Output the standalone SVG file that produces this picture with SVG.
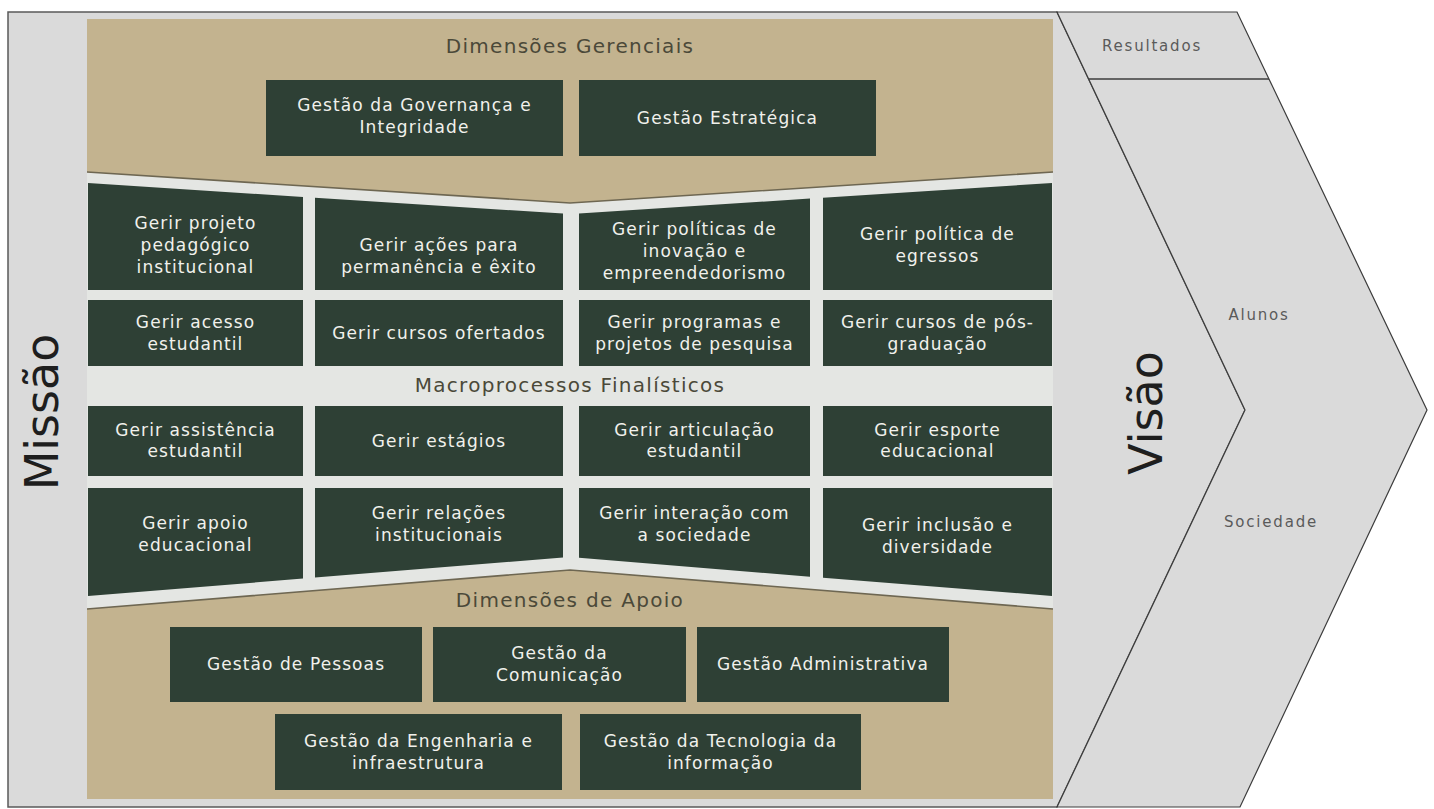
<svg xmlns="http://www.w3.org/2000/svg" width="1434" height="809" viewBox="0 0 1434 809">
<style>
.panel{fill:#dadada;stroke:#5a5a5a;stroke-width:1.5}
.band{fill:#dadada;stroke:#3c3c3c;stroke-width:1.2}
.bg{fill:#e4e6e3}
.tan{fill:#c3b38f}
.edge{fill:none;stroke:#6e6752;stroke-width:1.6}
.box{fill:#2e4035}
.bt{font-family:"DejaVu Sans",sans-serif;font-size:17px;fill:#f1f1ec;text-anchor:middle;letter-spacing:1.1px}
.sec{font-family:"DejaVu Sans",sans-serif;font-size:20px;fill:#4b4939;text-anchor:middle;letter-spacing:1.3px}
.lab{font-family:"DejaVu Sans",sans-serif;font-size:15px;fill:#5a5a5a;text-anchor:middle;letter-spacing:1.8px}
.big{font-family:"DejaVu Sans",sans-serif;font-size:46px;fill:#1e1e1e;text-anchor:middle}
</style>

<g id="frame">
  <polygon class="panel" points="8,12 1057,12 1245,410 1057,807 8,807"/>
  <polygon class="band" points="1057,12 1237,12 1427,410 1240,807 1057,807 1245,410"/>
  <line x1="1089" y1="79" x2="1269" y2="79" stroke="#3c3c3c" stroke-width="1.5"/>
  <rect class="bg" x="87" y="19" width="966" height="780"/>
</g>

<g id="labels">
  <text class="big" transform="translate(58,412) rotate(-90)">Missão</text>
  <text class="big" transform="translate(1162,413) rotate(-90)">Visão</text>
  <text class="lab" x="1152" y="51">Resultados</text>
  <text class="lab" x="1259" y="320">Alunos</text>
  <text class="lab" x="1271" y="527">Sociedade</text>
</g>

<g id="dimensoes-gerenciais">
  <polygon class="tan" points="87,19 1053,19 1053,172 570,203 87,172"/>
  <polyline class="edge" points="87,172 570,203 1053,172"/>
  <text class="sec" x="570" y="53">Dimensões Gerenciais</text>
</g>

<g id="gestao-governanca">
  <rect class="box" x="266" y="80" width="297" height="76"/>
  <text class="bt" x="414.5" y="111">Gestão da Governança e</text>
  <text class="bt" x="414.5" y="133">Integridade</text>
</g>
<g id="gestao-estrategica">
  <rect class="box" x="579" y="80" width="297" height="76"/>
  <text class="bt" x="727.5" y="124">Gestão Estratégica</text>
</g>

<g id="macroprocessos-label">
  <text class="sec" x="570" y="392">Macroprocessos Finalísticos</text>
</g>

<!-- Row 1 -->
<g id="gerir-projeto-pedagogico">
  <polygon class="box" points="88,183 303,197 303,290 88,290"/>
  <text class="bt" x="195.5" y="229">Gerir projeto</text>
  <text class="bt" x="195.5" y="251">pedagógico</text>
  <text class="bt" x="195.5" y="273">institucional</text>
</g>
<g id="gerir-acoes-permanencia">
  <polygon class="box" points="315,197.7 563,213.6 563,290 315,290"/>
  <text class="bt" x="439" y="251">Gerir ações para</text>
  <text class="bt" x="439" y="273">permanência e êxito</text>
</g>
<g id="gerir-politicas-inovacao">
  <polygon class="box" points="579,213.4 810,198.6 810,290 579,290"/>
  <text class="bt" x="694.5" y="235">Gerir políticas de</text>
  <text class="bt" x="694.5" y="257">inovação e</text>
  <text class="bt" x="694.5" y="279">empreendedorismo</text>
</g>
<g id="gerir-politica-egressos">
  <polygon class="box" points="823,197.8 1052,183 1052,290 823,290"/>
  <text class="bt" x="937.5" y="240">Gerir política de</text>
  <text class="bt" x="937.5" y="262">egressos</text>
</g>

<!-- Row 2 -->
<g id="gerir-acesso">
  <rect class="box" x="88" y="300" width="215" height="66"/>
  <text class="bt" x="195.5" y="328">Gerir acesso</text>
  <text class="bt" x="195.5" y="350">estudantil</text>
</g>
<g id="gerir-cursos-ofertados">
  <rect class="box" x="315" y="300" width="248" height="66"/>
  <text class="bt" x="439" y="339">Gerir cursos ofertados</text>
</g>
<g id="gerir-programas-pesquisa">
  <rect class="box" x="579" y="300" width="231" height="66"/>
  <text class="bt" x="694.5" y="328">Gerir programas e</text>
  <text class="bt" x="694.5" y="350">projetos de pesquisa</text>
</g>
<g id="gerir-pos-graduacao">
  <rect class="box" x="823" y="300" width="229" height="66"/>
  <text class="bt" x="937.5" y="328">Gerir cursos de pós-</text>
  <text class="bt" x="937.5" y="350">graduação</text>
</g>

<!-- Row 3 -->
<g id="gerir-assistencia">
  <rect class="box" x="88" y="406" width="215" height="70"/>
  <text class="bt" x="195.5" y="436">Gerir assistência</text>
  <text class="bt" x="195.5" y="457">estudantil</text>
</g>
<g id="gerir-estagios">
  <rect class="box" x="315" y="406" width="248" height="70"/>
  <text class="bt" x="439" y="447">Gerir estágios</text>
</g>
<g id="gerir-articulacao">
  <rect class="box" x="579" y="406" width="231" height="70"/>
  <text class="bt" x="694.5" y="436">Gerir articulação</text>
  <text class="bt" x="694.5" y="457">estudantil</text>
</g>
<g id="gerir-esporte">
  <rect class="box" x="823" y="406" width="229" height="70"/>
  <text class="bt" x="937.5" y="436">Gerir esporte</text>
  <text class="bt" x="937.5" y="457">educacional</text>
</g>

<!-- Row 4 -->
<g id="gerir-apoio-educacional">
  <polygon class="box" points="88,488 303,488 303,578.6 88,596"/>
  <text class="bt" x="195.5" y="529">Gerir apoio</text>
  <text class="bt" x="195.5" y="551">educacional</text>
</g>
<g id="gerir-relacoes-institucionais">
  <polygon class="box" points="315,488 563,488 563,557.6 315,577.6"/>
  <text class="bt" x="439" y="519">Gerir relações</text>
  <text class="bt" x="439" y="541">institucionais</text>
</g>
<g id="gerir-interacao-sociedade">
  <polygon class="box" points="579,488 810,488 810,576.7 579,557.7"/>
  <text class="bt" x="694.5" y="519">Gerir interação com</text>
  <text class="bt" x="694.5" y="541">a sociedade</text>
</g>
<g id="gerir-inclusao-diversidade">
  <polygon class="box" points="823,488 1052,488 1052,596 823,577.7"/>
  <text class="bt" x="937.5" y="531">Gerir inclusão e</text>
  <text class="bt" x="937.5" y="553">diversidade</text>
</g>

<g id="dimensoes-apoio">
  <polygon class="tan" points="87,609 570,570 1053,609 1053,799 87,799"/>
  <polyline class="edge" points="87,609 570,570 1053,609"/>
  <text class="sec" x="570" y="607">Dimensões de Apoio</text>
</g>

<g id="gestao-pessoas">
  <rect class="box" x="170" y="627" width="252" height="75"/>
  <text class="bt" x="296" y="670">Gestão de Pessoas</text>
</g>
<g id="gestao-comunicacao">
  <rect class="box" x="433" y="627" width="253" height="75"/>
  <text class="bt" x="559.5" y="659">Gestão da</text>
  <text class="bt" x="559.5" y="681">Comunicação</text>
</g>
<g id="gestao-administrativa">
  <rect class="box" x="697" y="627" width="252" height="75"/>
  <text class="bt" x="823" y="670">Gestão Administrativa</text>
</g>
<g id="gestao-engenharia">
  <rect class="box" x="275" y="714" width="287" height="76"/>
  <text class="bt" x="418.5" y="747">Gestão da Engenharia e</text>
  <text class="bt" x="418.5" y="769">infraestrutura</text>
</g>
<g id="gestao-tecnologia">
  <rect class="box" x="580" y="714" width="281" height="76"/>
  <text class="bt" x="720.5" y="747">Gestão da Tecnologia da</text>
  <text class="bt" x="720.5" y="769">informação</text>
</g>

<g id="connectors"></g>
</svg>
